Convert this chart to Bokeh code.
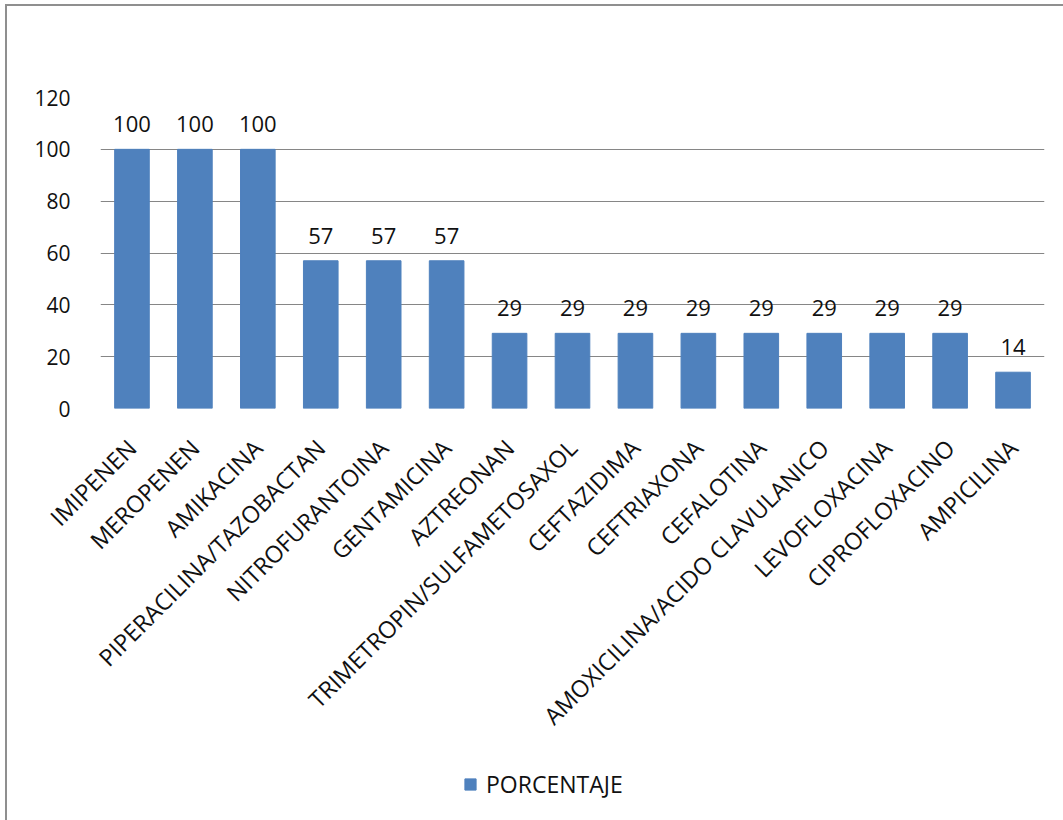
import math
from bokeh.plotting import figure
from bokeh.layouts import column
from bokeh.models import ColumnDataSource, Legend, LegendItem, FixedTicker, Range1d, FactorRange
from bokeh.embed import file_html
from bokeh.resources import INLINE

categories = ["IMIPENEN", "MEROPENEN", "AMIKACINA", "PIPERACILINA/TAZOBACTAN",
              "NITROFURANTOINA", "GENTAMICINA", "AZTREONAN", "TRIMETROPIN/SULFAMETOSAXOL",
              "CEFTAZIDIMA", "CEFTRIAXONA", "CEFALOTINA", "AMOXICILINA/ACIDO CLAVULANICO",
              "LEVOFLOXACINA", "CIPROFLOXACINO", "AMPICILINA"]
porcentaje = [100, 100, 100, 57, 57, 57, 29, 29, 29, 29, 29, 29, 29, 29, 14]
y_ticks = [0, 20, 40, 60, 80, 100, 120]
series_name = "PORCENTAJE"

FONT = "Open Sans"
BLUE = "#4F81BD"
TXT = "#111111"

src = ColumnDataSource(dict(cat=categories, val=porcentaje, lab=[str(v) for v in porcentaje]))

p = figure(x_range=FactorRange(*categories), y_range=Range1d(0, 120),
           width=1056, height=750, output_backend="svg", toolbar_location=None,
           min_border_left=93, min_border_top=91, min_border_right=19, min_border_bottom=348)
p.outline_line_color = None
p.x_range.range_padding = 0

r = p.vbar(x="cat", top="val", width=0.55, source=src, fill_color=BLUE, line_color=BLUE)
p.text(x="cat", y="val", text="lab", source=src, text_align="center", text_baseline="bottom",
       y_offset=-17, text_font_size="22px", text_color=TXT,
       text_font={"value": FONT})

p.xgrid.grid_line_color = None
p.ygrid.grid_line_color = "#868686"
p.ygrid.grid_line_width = 1
p.yaxis.ticker = FixedTicker(ticks=y_ticks)
p.yaxis.axis_line_color = None
p.yaxis.major_tick_line_color = None
p.yaxis.minor_tick_line_color = None
p.yaxis.major_label_standoff = 24
p.yaxis.major_label_text_font = FONT
p.yaxis.major_label_text_font_size = "21px"
p.yaxis.major_label_text_color = TXT

p.xaxis.axis_line_color = None
p.xaxis.major_tick_line_color = None
p.xaxis.major_label_orientation = math.pi / 4
p.xaxis.major_label_standoff = 29
p.xaxis.major_label_text_font = FONT
p.xaxis.major_label_text_font_size = "23.5px"
p.xaxis.major_label_text_color = TXT

# legend strip below the chart
p2 = figure(x_range=Range1d(0, 1), y_range=Range1d(0, 1), width=1056, height=64,
            output_backend="svg", toolbar_location=None, x_axis_type=None, y_axis_type=None,
            min_border=0, min_border_left=0, min_border_right=0, min_border_top=0, min_border_bottom=0)
p2.outline_line_color = None
p2.xgrid.visible = False
p2.ygrid.visible = False
r2 = p2.vbar(x=[-5], top=[0], width=0.1, fill_color=BLUE, line_color=BLUE)
legend = Legend(items=[LegendItem(label=series_name, renderers=[r2])],
                location=(363, 20), orientation="horizontal",
                label_text_font=FONT, label_text_font_size="23px", label_text_color=TXT,
                glyph_width=14, glyph_height=14, label_standoff=9,
                padding=0, margin=0, border_line_color=None, background_fill_alpha=0)
p2.add_layout(legend)

layout = column(p, p2, spacing=0,
                styles={"border-left": "2px solid #8f8f8f", "border-top": "2px solid #8f8f8f",
                        "margin-left": "5px", "margin-top": "4px"})

open("out.html", "w").write(file_html(layout, INLINE))
